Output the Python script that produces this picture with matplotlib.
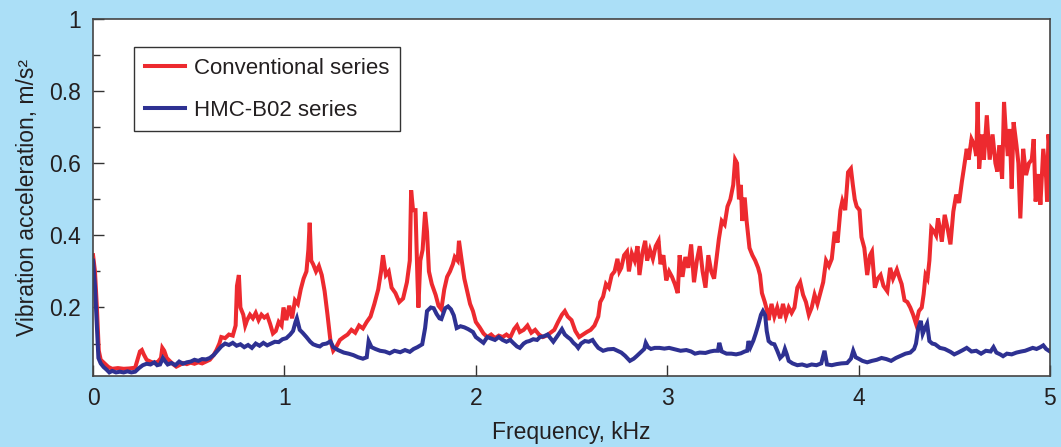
import numpy as np
import matplotlib
matplotlib.use("Agg")
import matplotlib.pyplot as plt
from matplotlib.ticker import MultipleLocator

# Conventional series (kHz, m/s^2)
conv_freq = [
    0.000, 0.010, 0.020, 0.030, 0.040, 0.060, 0.080, 0.100, 0.130, 0.160,
    0.190, 0.220, 0.235, 0.245, 0.255, 0.265, 0.280, 0.300, 0.320, 0.340,
    0.355, 0.362, 0.372, 0.385, 0.400, 0.420, 0.435, 0.450, 0.470, 0.490,
    0.510, 0.530, 0.550, 0.570, 0.590, 0.610, 0.630, 0.645, 0.660, 0.670,
    0.690, 0.710, 0.730, 0.745, 0.752, 0.762, 0.770, 0.785, 0.795, 0.805,
    0.820, 0.835, 0.850, 0.865, 0.880, 0.895, 0.910, 0.925, 0.940, 0.955,
    0.970, 0.985, 0.995, 1.010, 1.025, 1.040, 1.055, 1.070, 1.085, 1.100,
    1.115, 1.125, 1.132, 1.140, 1.150, 1.165, 1.180, 1.195, 1.210, 1.225,
    1.240, 1.255, 1.270, 1.290, 1.310, 1.330, 1.350, 1.370, 1.390, 1.410,
    1.430, 1.450, 1.470, 1.490, 1.505, 1.515, 1.530, 1.545, 1.560, 1.580,
    1.600, 1.620, 1.640, 1.655, 1.662, 1.672, 1.685, 1.695, 1.700, 1.710,
    1.722, 1.735, 1.745, 1.755, 1.770, 1.790, 1.805, 1.820, 1.835, 1.850,
    1.865, 1.880, 1.890, 1.905, 1.912, 1.925, 1.940, 1.955, 1.970, 1.985,
    2.000, 2.020, 2.040, 2.060, 2.080, 2.100, 2.120, 2.140, 2.160, 2.180,
    2.200, 2.215, 2.230, 2.250, 2.270, 2.290, 2.310, 2.330, 2.350, 2.370,
    2.390, 2.410, 2.430, 2.450, 2.465, 2.480, 2.500, 2.520, 2.540, 2.560,
    2.580, 2.600, 2.620, 2.640, 2.650, 2.665, 2.680, 2.695, 2.710, 2.725,
    2.740, 2.750, 2.760, 2.775, 2.790, 2.800, 2.815, 2.830, 2.845, 2.855,
    2.870, 2.885, 2.895, 2.910, 2.925, 2.940, 2.955, 2.965, 2.980, 2.995,
    3.010, 3.025, 3.040, 3.055, 3.065, 3.080, 3.095, 3.110, 3.125, 3.140,
    3.155, 3.170, 3.185, 3.200, 3.215, 3.230, 3.245, 3.260, 3.270, 3.285,
    3.300, 3.315, 3.330, 3.345, 3.355, 3.365, 3.375, 3.385, 3.392, 3.405,
    3.415, 3.430, 3.445, 3.460, 3.475, 3.485, 3.495, 3.510, 3.520, 3.530,
    3.545, 3.560, 3.575, 3.590, 3.605, 3.620, 3.635, 3.650, 3.665, 3.680,
    3.695, 3.710, 3.725, 3.740, 3.755, 3.770, 3.785, 3.800, 3.815, 3.830,
    3.845, 3.860, 3.875, 3.890, 3.905, 3.915, 3.930, 3.945, 3.960, 3.970,
    3.980, 3.990, 4.005, 4.015, 4.030, 4.045, 4.060, 4.070, 4.085, 4.100,
    4.115, 4.130, 4.150, 4.165, 4.180, 4.200, 4.215, 4.225, 4.240, 4.255,
    4.270, 4.285, 4.300, 4.315, 4.330, 4.340, 4.350, 4.360, 4.370, 4.380,
    4.395, 4.405, 4.415, 4.425, 4.435, 4.450, 4.465, 4.480, 4.495, 4.510,
    4.525, 4.540, 4.550, 4.565, 4.575, 4.590, 4.605, 4.615, 4.622, 4.630,
    4.645, 4.655, 4.670, 4.685, 4.700, 4.715, 4.725, 4.735, 4.750, 4.760,
    4.770, 4.780, 4.790, 4.800, 4.810, 4.825, 4.835, 4.845, 4.860, 4.875,
    4.890, 4.905, 4.915, 4.925, 4.940, 4.950, 4.965, 4.980, 4.985, 4.992,
    5.000,
]
conv_vals = [
    0.345, 0.300, 0.200, 0.080, 0.055, 0.045, 0.035, 0.030, 0.032, 0.030,
    0.031, 0.033, 0.060, 0.078, 0.082, 0.070, 0.055, 0.050, 0.046, 0.050,
    0.060, 0.088, 0.080, 0.060, 0.052, 0.042, 0.036, 0.040, 0.046, 0.043,
    0.047, 0.044, 0.048, 0.045, 0.050, 0.055, 0.068, 0.082, 0.100, 0.118,
    0.115, 0.125, 0.122, 0.150, 0.260, 0.290, 0.200, 0.180, 0.150, 0.165,
    0.180, 0.170, 0.185, 0.165, 0.180, 0.172, 0.178, 0.155, 0.128, 0.135,
    0.160, 0.150, 0.200, 0.165, 0.205, 0.170, 0.220, 0.210, 0.250, 0.280,
    0.300, 0.360, 0.435, 0.330, 0.320, 0.300, 0.315, 0.290, 0.245, 0.180,
    0.110, 0.080, 0.090, 0.110, 0.118, 0.125, 0.138, 0.130, 0.150, 0.142,
    0.160, 0.175, 0.210, 0.250, 0.300, 0.345, 0.290, 0.300, 0.255, 0.240,
    0.215, 0.225, 0.270, 0.330, 0.525, 0.470, 0.470, 0.280, 0.200, 0.330,
    0.360, 0.465, 0.410, 0.300, 0.265, 0.235, 0.205, 0.195, 0.250, 0.285,
    0.300, 0.320, 0.340, 0.330, 0.385, 0.335, 0.280, 0.245, 0.210, 0.190,
    0.160, 0.145, 0.128, 0.118, 0.125, 0.115, 0.122, 0.118, 0.125, 0.117,
    0.140, 0.150, 0.132, 0.138, 0.150, 0.130, 0.138, 0.125, 0.118, 0.122,
    0.130, 0.138, 0.160, 0.180, 0.190, 0.175, 0.165, 0.135, 0.118, 0.125,
    0.132, 0.138, 0.150, 0.175, 0.215, 0.230, 0.265, 0.255, 0.290, 0.300,
    0.335, 0.300, 0.310, 0.345, 0.355, 0.300, 0.350, 0.330, 0.370, 0.290,
    0.350, 0.385, 0.330, 0.360, 0.335, 0.370, 0.385, 0.320, 0.345, 0.275,
    0.300, 0.285, 0.265, 0.240, 0.345, 0.285, 0.340, 0.310, 0.375, 0.270,
    0.330, 0.370, 0.300, 0.255, 0.345, 0.300, 0.280, 0.345, 0.390, 0.440,
    0.430, 0.480, 0.500, 0.540, 0.610, 0.600, 0.500, 0.540, 0.440, 0.505,
    0.440, 0.365, 0.345, 0.330, 0.310, 0.290, 0.240, 0.215, 0.195, 0.165,
    0.210, 0.175, 0.200, 0.170, 0.210, 0.175, 0.200, 0.185, 0.200, 0.255,
    0.270, 0.235, 0.215, 0.180, 0.200, 0.235, 0.210, 0.240, 0.270, 0.330,
    0.315, 0.335, 0.410, 0.380, 0.470, 0.495, 0.470, 0.575, 0.585, 0.540,
    0.500, 0.480, 0.470, 0.395, 0.365, 0.290, 0.345, 0.355, 0.255, 0.280,
    0.290, 0.260, 0.245, 0.310, 0.280, 0.305, 0.280, 0.265, 0.220, 0.215,
    0.200, 0.180, 0.155, 0.190, 0.200, 0.237, 0.290, 0.280, 0.330, 0.420,
    0.410, 0.400, 0.447, 0.420, 0.383, 0.457, 0.420, 0.375, 0.466, 0.513,
    0.490, 0.550, 0.585, 0.640, 0.610, 0.667, 0.650, 0.620, 0.770, 0.585,
    0.680, 0.610, 0.733, 0.610, 0.680, 0.600, 0.577, 0.650, 0.557, 0.770,
    0.680, 0.620, 0.695, 0.530, 0.714, 0.650, 0.600, 0.447, 0.640, 0.567,
    0.600, 0.610, 0.667, 0.494, 0.570, 0.485, 0.640, 0.560, 0.494, 0.680,
    0.630,
]

# HMC-B02 series
hmc_freq = [
    0.000, 0.010, 0.020, 0.028, 0.040, 0.055, 0.070, 0.085, 0.100, 0.120,
    0.140, 0.160, 0.180, 0.200, 0.220, 0.240, 0.260, 0.280, 0.300, 0.320,
    0.335, 0.350, 0.365, 0.375, 0.390, 0.410, 0.430, 0.450, 0.470, 0.490,
    0.510, 0.530, 0.550, 0.570, 0.590, 0.610, 0.630, 0.650, 0.670, 0.690,
    0.710, 0.730, 0.750, 0.770, 0.790, 0.810, 0.830, 0.850, 0.870, 0.890,
    0.910, 0.930, 0.950, 0.970, 0.990, 1.010, 1.030, 1.045, 1.058, 1.065,
    1.080, 1.095, 1.115, 1.135, 1.150, 1.170, 1.185, 1.200, 1.220, 1.240,
    1.255, 1.280, 1.310, 1.335, 1.360, 1.385, 1.410, 1.430, 1.440, 1.455,
    1.475, 1.500, 1.525, 1.550, 1.575, 1.605, 1.630, 1.655, 1.675, 1.695,
    1.720, 1.735, 1.745, 1.765, 1.780, 1.795, 1.810, 1.820, 1.840, 1.855,
    1.870, 1.885, 1.900, 1.920, 1.940, 1.960, 1.985, 2.000, 2.020, 2.040,
    2.060, 2.080, 2.100, 2.120, 2.140, 2.160, 2.180, 2.195, 2.215, 2.230,
    2.250, 2.265, 2.280, 2.300, 2.320, 2.335, 2.355, 2.375, 2.390, 2.405,
    2.425, 2.450, 2.465, 2.480, 2.495, 2.510, 2.525, 2.535, 2.550, 2.570,
    2.590, 2.610, 2.625, 2.640, 2.665, 2.690, 2.720, 2.740, 2.760, 2.780,
    2.805, 2.825, 2.840, 2.860, 2.880, 2.888, 2.900, 2.915, 2.935, 2.960,
    2.985, 3.010, 3.040, 3.070, 3.100, 3.125, 3.145, 3.170, 3.200, 3.225,
    3.245, 3.265, 3.272, 3.285, 3.310, 3.335, 3.360, 3.385, 3.405, 3.418,
    3.425, 3.435, 3.450, 3.462, 3.475, 3.490, 3.500, 3.512, 3.520, 3.530,
    3.545, 3.560, 3.575, 3.590, 3.605, 3.615, 3.625, 3.635, 3.655, 3.680,
    3.705, 3.730, 3.755, 3.780, 3.805, 3.822, 3.835, 3.860, 3.885, 3.910,
    3.940, 3.960, 3.972, 3.985, 4.000, 4.020, 4.045, 4.070, 4.095, 4.120,
    4.145, 4.170, 4.195, 4.220, 4.245, 4.270, 4.290, 4.300, 4.312, 4.325,
    4.335, 4.345, 4.358, 4.370, 4.385, 4.400, 4.425, 4.450, 4.480, 4.500,
    4.520, 4.545, 4.565, 4.590, 4.615, 4.640, 4.665, 4.690, 4.705, 4.720,
    4.740, 4.755, 4.775, 4.800, 4.825, 4.850, 4.870, 4.890, 4.910, 4.930,
    4.950, 4.965, 4.980, 5.000,
]
hmc_vals = [
    0.330, 0.260, 0.150, 0.060, 0.045, 0.035, 0.028, 0.020, 0.024, 0.020,
    0.022, 0.020, 0.023, 0.020, 0.022, 0.032, 0.040, 0.044, 0.042, 0.048,
    0.040, 0.042, 0.060, 0.052, 0.042, 0.046, 0.040, 0.050, 0.044, 0.048,
    0.050, 0.055, 0.052, 0.057, 0.056, 0.060, 0.068, 0.080, 0.092, 0.100,
    0.096, 0.102, 0.094, 0.098, 0.090, 0.096, 0.088, 0.100, 0.094, 0.102,
    0.095, 0.100, 0.105, 0.104, 0.112, 0.115, 0.125, 0.135, 0.160, 0.170,
    0.138, 0.130, 0.118, 0.105, 0.098, 0.094, 0.092, 0.098, 0.100, 0.106,
    0.090, 0.082, 0.075, 0.072, 0.068, 0.062, 0.058, 0.062, 0.107, 0.090,
    0.085, 0.080, 0.078, 0.073, 0.080, 0.076, 0.082, 0.077, 0.085, 0.090,
    0.098, 0.143, 0.190, 0.200, 0.198, 0.182, 0.170, 0.168, 0.198, 0.203,
    0.195, 0.178, 0.143, 0.148, 0.145, 0.140, 0.132, 0.118, 0.110, 0.102,
    0.118, 0.114, 0.110, 0.118, 0.110, 0.105, 0.110, 0.102, 0.092, 0.088,
    0.100, 0.105, 0.107, 0.112, 0.110, 0.118, 0.120, 0.125, 0.115, 0.105,
    0.120, 0.140, 0.125, 0.118, 0.112, 0.102, 0.095, 0.088, 0.100, 0.107,
    0.105, 0.110, 0.098, 0.088, 0.080, 0.084, 0.085, 0.080, 0.075, 0.066,
    0.052, 0.058, 0.065, 0.075, 0.085, 0.102, 0.090, 0.085, 0.088, 0.088,
    0.086, 0.088, 0.084, 0.080, 0.082, 0.078, 0.072, 0.075, 0.074, 0.078,
    0.080, 0.080, 0.102, 0.078, 0.072, 0.072, 0.070, 0.073, 0.078, 0.080,
    0.107, 0.090, 0.108, 0.127, 0.150, 0.180, 0.190, 0.178, 0.135, 0.107,
    0.100, 0.098, 0.080, 0.060, 0.068, 0.085, 0.070, 0.052, 0.045, 0.040,
    0.042, 0.038, 0.042, 0.040, 0.045, 0.080, 0.042, 0.040, 0.043, 0.045,
    0.046, 0.058, 0.080, 0.062, 0.058, 0.052, 0.048, 0.052, 0.055, 0.060,
    0.057, 0.052, 0.060, 0.066, 0.072, 0.075, 0.085, 0.100, 0.143, 0.163,
    0.127, 0.140, 0.155, 0.107, 0.100, 0.098, 0.088, 0.085, 0.077, 0.070,
    0.075, 0.082, 0.088, 0.078, 0.080, 0.072, 0.080, 0.078, 0.090, 0.075,
    0.070, 0.065, 0.072, 0.070, 0.075, 0.078, 0.080, 0.084, 0.088, 0.085,
    0.090, 0.095, 0.085, 0.078,
]

series_names = ["Conventional series", "HMC-B02 series"]
y_ticks = [0.2, 0.4, 0.6, 0.8, 1.0]
y_tick_labels = ["0.2", "0.4", "0.6", "0.8", "1"]
x_ticks = [0, 1, 2, 3, 4, 5]

plt.rcParams["font.family"] = ["Liberation Sans", "DejaVu Sans"]

bg = "#abdff7"
red = "#ed2a2f"
blue = "#2e3192"
ink = "#231f20"

fig = plt.figure(figsize=(10.61, 4.47), dpi=100, facecolor=bg)
ax = fig.add_axes([0.0877, 0.1588, 0.9019, 0.7987])
ax.set_facecolor("white")

ax.plot(conv_freq, conv_vals, color=red, lw=2.9, label=series_names[0],
        solid_joinstyle="miter")
ax.plot(hmc_freq, hmc_vals, color=blue, lw=2.9, label=series_names[1],
        solid_joinstyle="miter")

ax.set_xlim(0, 5)
ax.set_ylim(0.01, 1.0)

ax.set_xticks(x_ticks)
ax.set_xticklabels([str(t) for t in x_ticks])
ax.set_yticks(y_ticks)
ax.set_yticklabels(y_tick_labels)
ax.yaxis.set_minor_locator(MultipleLocator(0.1))

ax.tick_params(axis="both", which="major", direction="in", length=8,
               width=1, color="#333333", labelsize=16.5, labelcolor=ink)
ax.tick_params(axis="x", which="major", pad=8)
ax.tick_params(axis="y", which="major", pad=9)
ax.tick_params(axis="y", which="minor", direction="in", length=5,
               width=1, color="#333333")

for side in ["left", "right", "top", "bottom"]:
    ax.spines[side].set_color("#444444")
    ax.spines[side].set_linewidth(1.2)

ax.set_xlabel("Frequency, kHz", fontsize=16.5, color=ink, labelpad=8)
ax.set_ylabel("Vibration acceleration, m/s²", fontsize=16.5, color=ink,
              labelpad=7)

leg = ax.legend(loc="upper left", bbox_to_anchor=(0.043, 0.922),
                borderaxespad=0, fontsize=16, frameon=True, fancybox=False,
                handlelength=1.8, handletextpad=0.4, labelspacing=0.95,
                borderpad=0.48)
leg.get_frame().set_edgecolor("black")
leg.get_frame().set_linewidth(1.0)
for t in leg.get_texts():
    t.set_color(ink)

fig.savefig("out.png", dpi=100, facecolor=bg)
